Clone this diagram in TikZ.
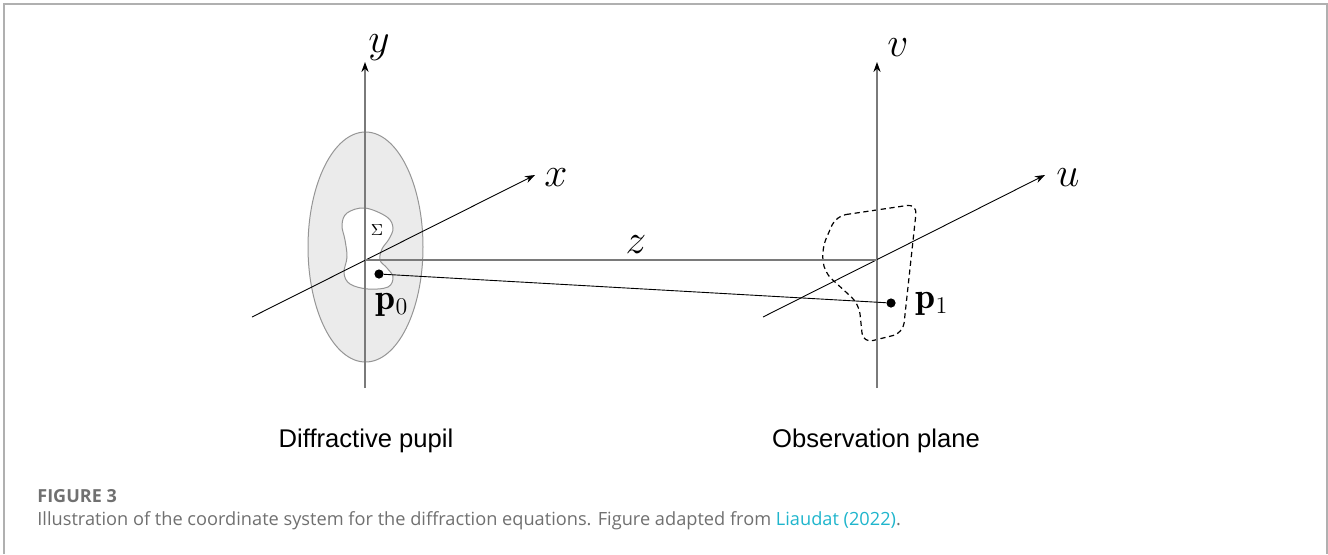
\documentclass[tikz,border=0pt]{standalone}
\usepackage{amsmath}
\usepackage{fontspec}
\usetikzlibrary{arrows.meta, positioning, calc}
\newfontfamily\arialfont{Liberation Sans}
\newfontfamily\capfont{Open Sans}
\definecolor{framegray}{HTML}{B0B0B0}
\definecolor{pupilgray}{HTML}{EBEBEB}
\definecolor{linegray}{HTML}{7A7A7A}
\definecolor{captext}{HTML}{707070}
\definecolor{citeteal}{HTML}{1FB5CC}

\begin{document}
\begin{tikzpicture}[
    x=0.5pt, y=-0.5pt,
    axisline/.style={draw=linegray, line width=0.55pt, -{Stealth[length=5pt, width=3.6pt, color=black]}},
    arrow/.style={-{Stealth[length=5pt, width=3.6pt]}, line width=0.45pt, draw=black},
    lbl/.style={font=\fontsize{22}{26}\selectfont, inner sep=0pt},
    planename/.style={font=\arialfont\fontsize{12.8}{15}\selectfont, inner sep=0pt, anchor=base},
    dot/.style={circle, fill=black, inner sep=0pt, minimum size=4.6pt},
]
\useasboundingbox (0,0) rectangle (1328,554);
% cadre
\draw[framegray, line width=0.8pt] (4,554) -- (4,4) -- (1327,4) -- (1327,554);

% points de repere
\coordinate (O0) at (365,260);
\coordinate (O1) at (877,260);
\coordinate (ybot) at (365,388);
\coordinate (ytop) at (365,62);
\coordinate (xbot) at (252,317);
\coordinate (xtop) at (535,175);
\coordinate (vbot) at (877,388);
\coordinate (vtop) at (877,62);
\coordinate (ubot) at (763,317);
\coordinate (utop) at (1045,175);

% pupille diffractive
\draw[draw=linegray!80, fill=pupilgray, line width=0.5pt] (365.5,247) ellipse [x radius=28.75pt, y radius=57.5pt];
\draw[draw=linegray!80, fill=white, line width=0.5pt] plot[smooth cycle, tension=0.6] coordinates {
    (365,208) (387,217) (393,228) (389,239) (382,249) (380,260) (387,268)
    (393,277) (388,287) (368,289) (350,284) (344,273) (347,257) (345,240)
    (342,225) (347,213)};

% plan d'observation
\draw[dashed, dash pattern=on 2.6pt off 1.8pt, line width=0.6pt, rounded corners=5pt]
    (836,216) -- (917,204) -- (903,333) -- (863,343) -- (859,304) -- (824,272) -- (822,248) -- cycle;

% axes
\draw[axisline] (ybot) -- (ytop);
\draw[axisline] (vbot) -- (vtop);
\draw[arrow] (xbot) -- (xtop);
\draw[arrow] (ubot) -- (utop);

% points
\node[dot] (p0) at (379,274) {};
\node[dot] (p1) at (891,303) {};
\draw[linegray, line width=0.55pt] (O0) -- (O1);
\draw[black, line width=0.45pt] (p0) -- (p1);

% etiquettes
\node[lbl] (ylab) at (379,48) {$y$};
\node[lbl] (xlab) at (556,178) {$x$};
\node[lbl] (vlab) at (898,48) {$v$};
\node[lbl] (ulab) at (1068,178) {$u$};
\node[lbl] (zlab) at (636,245) {$z$};
\node[font=\fontsize{8.5}{10}\selectfont, inner sep=0pt] (sigma) at (377,230) {$\Sigma$};
\node[font=\fontsize{18}{20}\selectfont, inner sep=0pt] (p0lab) at (392,305) {$\mathbf{p}_0$};
\node[font=\fontsize{18}{20}\selectfont, inner sep=0pt] (p1lab) at (932,304) {$\mathbf{p}_1$};

\node[planename] (pupil) at (366,447) {Diffractive pupil};
\node[planename] (obs) at (876,447) {Observation plane};

% legende
\node[anchor=base west, inner sep=0pt, font=\capfont\bfseries\fontsize{9}{11}\selectfont, text=captext] (figno) at (37,502) {FIGURE 3};
\node[anchor=base west, inner sep=0pt, font=\capfont\fontsize{9.1}{11}\selectfont, text=captext] (caption) at (37,525)
    {Illustration of the coordinate system for the diffraction equations. Figure adapted from \textcolor{citeteal}{Liaudat (2022)}.};
\end{tikzpicture}
\end{document}
